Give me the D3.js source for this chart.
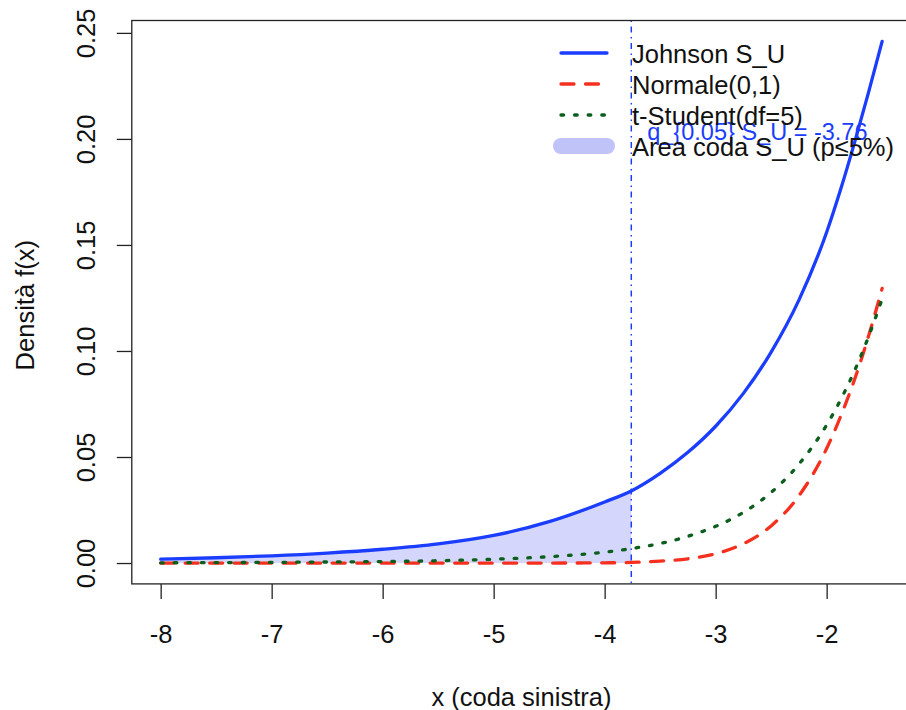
<!DOCTYPE html>
<html>
<head>
<meta charset="utf-8">
<script src="https://cdn.jsdelivr.net/npm/d3@7"></script>
<style>
  body { margin: 0; background: #fff; }
  text { font-family: "Liberation Sans", Arial, Helvetica, sans-serif; }
</style>
</head>
<body>
<svg id="mainsvg" width="906" height="710"></svg>
<script>
// valori
const xs = [-8, -7.5, -7, -6.5, -6, -5.5, -5, -4.5, -4, -3.76, -3.5, -3.25, -3, -2.75, -2.5, -2.25, -2, -1.875, -1.75, -1.625, -1.5]
const johnson = [0.0018, 0.0025, 0.0034, 0.0047, 0.0065, 0.0090, 0.0130, 0.0195, 0.0288, 0.0340, 0.0423, 0.0522, 0.0645, 0.0800, 0.0995, 0.1240, 0.1560, 0.1760, 0.1980, 0.2215, 0.2460]
const normale = [0, 0, 0, 0, 0, 0, 0, 0, 0.0001, 0.0003, 0.0009, 0.0020, 0.0044, 0.0091, 0.0175, 0.0317, 0.0540, 0.0690, 0.0863, 0.1066, 0.1295]
const student = [0.0001, 0.0002, 0.0003, 0.0005, 0.0007, 0.0011, 0.0018, 0.0030, 0.0051, 0.0068, 0.0092, 0.0126, 0.0173, 0.0239, 0.0333, 0.0466, 0.0651, 0.0769, 0.0905, 0.1064, 0.1245]
const q05 = -3.76
const xTicks = [-8, -7, -6, -5, -4, -3, -2]
const yTicks = [0, 0.05, 0.10, 0.15, 0.20, 0.25]
const legendLabels = ["Johnson S_U", "Normale(0,1)", "t-Student(df=5)", "Area coda S_U (p\u22645%)"]

const svg = d3.select('#mainsvg')
const box = { left: 131.8, right: 911, top: 20.5, bottom: 583.9 }
const fontSize = 25.5

// scale con il 4% di margine come in R
const xPad = (d3.max(xs) - d3.min(xs)) * 0.04
const yMax = d3.max(johnson)
const yPad = yMax * 0.04
const xScale = d3.scaleLinear().domain([d3.min(xs) - xPad, d3.max(xs) + xPad]).range([box.left, box.right])
const yScale = d3.scaleLinear().domain([-yPad, yMax + yPad]).range([box.bottom, box.top])

svg.append("clipPath").attr("id", "plotclip")
  .append("rect").attr("x", box.left).attr("y", box.top)
  .attr("width", box.right - box.left).attr("height", box.bottom - box.top)

const plot = svg.append("g").attr("clip-path", "url(#plotclip)")

// area di coda
const tail = xs.map((x, i) => ({ x: x, y: johnson[i] })).filter(d => d.x <= q05)
plot.append("path")
  .datum(tail)
  .attr("fill", "rgba(40,55,235,0.2)")
  .attr("d", d3.area().x(d => xScale(d.x)).y0(yScale(0)).y1(d => yScale(d.y)).curve(d3.curveMonotoneX))

const line = d3.line().x(d => xScale(d.x)).y(d => yScale(d.y)).curve(d3.curveMonotoneX)
const redDash = "13 11.5", greenDash = "2.6 11"
const series = [
  { values: normale, color: "#f5301e", dash: redDash },
  { values: student, color: "#0b5e1c", dash: greenDash },
  { values: johnson, color: "#1a3dff", dash: null }
]
series.forEach(s => {
  plot.append("path")
    .datum(xs.map((x, i) => ({ x: x, y: s.values[i] })))
    .attr("fill", "none")
    .attr("stroke", s.color)
    .attr("stroke-width", 3.3)
    .attr("stroke-linecap", "round")
    .attr("stroke-dasharray", s.dash)
    .attr("d", line)
})

// linea del quantile
plot.append("line")
  .attr("x1", xScale(q05)).attr("x2", xScale(q05))
  .attr("y1", box.top).attr("y2", box.bottom)
  .attr("stroke", "#1a3dff").attr("stroke-width", 1.5)
  .attr("stroke-dasharray", "1.5 4.5 6 4.5")

// assi
const xAxis = d3.axisBottom(xScale).tickValues(xTicks).tickSize(15).tickFormat(d => String(d))
const gx = svg.append("g").attr("transform", `translate(0, ${box.bottom})`).call(xAxis)
gx.select(".domain").remove()
gx.selectAll(".tick text").attr("y", 59).attr("dy", null)

const yAxis = d3.axisLeft(yScale).tickValues(yTicks).tickSize(15).tickFormat(d => d.toFixed(2))
const gy = svg.append("g").attr("transform", `translate(${box.left}, 0)`).call(yAxis)
gy.select(".domain").remove()
gy.selectAll(".tick text")
  .attr("x", null).attr("dy", null)
  .attr("text-anchor", "middle")
  .attr("transform", "translate(-37, 0) rotate(-90)")

svg.selectAll(".tick line").attr("stroke", "#222").attr("stroke-width", 1.3)
svg.selectAll(".tick text").attr("font-size", fontSize).attr("fill", "#111")
  .attr("font-family", '"Liberation Sans", Arial, sans-serif')

svg.append("rect")
  .attr("x", box.left).attr("y", box.top)
  .attr("width", box.right - box.left).attr("height", box.bottom - box.top)
  .attr("fill", "none").attr("stroke", "#222").attr("stroke-width", 1.3)

// titoli assi
svg.append("text").text("x (coda sinistra)")
  .attr("x", (box.left + box.right) / 2).attr("y", 706)
  .attr("text-anchor", "middle").attr("font-size", fontSize).attr("fill", "#111")

svg.append("text").text("Densità f(x)")
  .attr("transform", `translate(34, ${(box.top + box.bottom) / 2 + 3}) rotate(-90)`)
  .attr("text-anchor", "middle").attr("font-size", fontSize).attr("fill", "#111")

// etichetta quantile
svg.append("text").text("q_{0.05} S_U = " + q05.toFixed(2))
  .attr("x", xScale(q05) + 16).attr("y", 140)
  .attr("font-size", 23.5).attr("fill", "#1a3dff")

// legenda
const legend = svg.append("g")
const legendItems = [
  { color: "#1a3dff", dash: null, width: 3.3 },
  { color: "#f5301e", dash: redDash, width: 3.3 },
  { color: "#0b5e1c", dash: greenDash, width: 3.3 },
  { color: "#bfc3f8", dash: null, width: 16 }
]
legendItems.forEach((d, i) => {
  const y = 53 + i * 31
  legend.append("line")
    .attr("x1", 561).attr("x2", 607).attr("y1", y).attr("y2", y)
    .attr("stroke", d.color).attr("stroke-width", d.width)
    .attr("stroke-linecap", "round").attr("stroke-dasharray", d.dash)
  legend.append("text").text(legendLabels[i])
    .attr("x", 632).attr("y", y + 9.5)
    .attr("font-size", fontSize).attr("fill", "#111")
})
</script>
</body>
</html>
